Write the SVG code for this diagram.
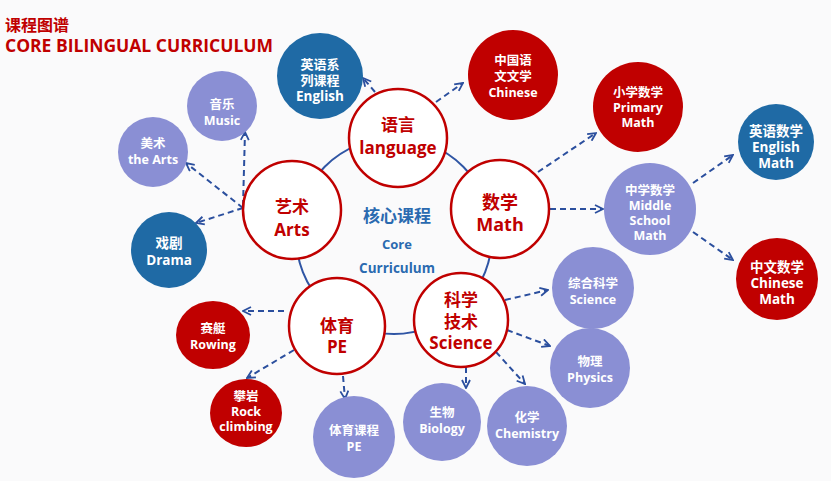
<svg xmlns="http://www.w3.org/2000/svg" width="831" height="481" viewBox="0 0 831 481">
<defs>
<style>
text{font-family:"Open Sans","Noto Sans CJK SC",sans-serif;font-weight:bold;text-anchor:middle}
.w{fill:#ffffff;font-size:12.5px}
.c{fill:#c00000;font-size:17px}
.hub{fill:#ffffff;stroke:#c00000;stroke-width:2.5}
.red{fill:#c00000}
.blue{fill:#1f6aa5}
.lav{fill:#8a8fd4}
.dash{fill:none;stroke:#2b4f9e;stroke-width:2;stroke-dasharray:6,4;marker-end:url(#ah)}
</style>
<marker id="ah" viewBox="0 0 10 10" refX="9" refY="5" markerWidth="10" markerHeight="10" markerUnits="userSpaceOnUse" orient="auto">
<path d="M1,1 L9,5 L1,9" fill="none" stroke="#2b4f9e" stroke-width="1.8"/>
</marker>
</defs>
<rect width="831" height="481" fill="#fafafb"/>
<g id="title">
<text x="5" y="31" style="text-anchor:start;font-size:16px;fill:#c00000">课程图谱</text>
<text x="5" y="52" style="text-anchor:start;font-size:17.5px;fill:#c00000" textLength="268" lengthAdjust="spacingAndGlyphs">CORE BILINGUAL CURRICULUM</text>
</g>
<g id="ring"><circle cx="394" cy="236" r="98" fill="none" stroke="#2f55a4" stroke-width="2"/></g>
<g id="connectors">
<line class="dash" x1="375" y1="92" x2="363" y2="78"/>
<line class="dash" x1="436" y1="102" x2="463" y2="83"/>
<line class="dash" x1="538" y1="172" x2="596" y2="133"/>
<line class="dash" x1="550" y1="209" x2="603" y2="209"/>
<line class="dash" x1="693" y1="183" x2="733" y2="155"/>
<line class="dash" x1="693" y1="232" x2="733" y2="260"/>
<line class="dash" x1="505" y1="300" x2="548" y2="290"/>
<line class="dash" x1="507" y1="330" x2="550" y2="346"/>
<line class="dash" x1="496" y1="352" x2="525" y2="384"/>
<line class="dash" x1="466" y1="367" x2="466" y2="388"/>
<line class="dash" x1="284" y1="311" x2="243" y2="311"/>
<line class="dash" x1="294" y1="350" x2="247" y2="378"/>
<line class="dash" x1="343" y1="376" x2="345" y2="399"/>
<line class="dash" x1="243" y1="206" x2="245" y2="132"/>
<line class="dash" x1="243" y1="208" x2="186" y2="163"/>
<line class="dash" x1="243" y1="208" x2="196" y2="223"/>
</g>
<g id="core">
<text x="397" y="222" style="fill:#2a6ab0;font-size:17px">核心课程</text>
<text x="397" y="249" style="fill:#2a6ab0;font-size:13px">Core</text>
<text x="397" y="273" style="fill:#2a6ab0;font-size:13.5px">Curriculum</text>
</g>
<g id="language"><circle class="hub" cx="398" cy="138" r="49"/><text class="c" x="398" y="131">语言</text><text class="c" x="398" y="154">language</text></g>
<g id="math"><circle class="hub" cx="500" cy="209" r="49"/><text class="c" x="500" y="209" style="font-size:18px">数学</text><text class="c" x="500" y="231" style="font-size:18px">Math</text></g>
<g id="arts"><circle class="hub" cx="292" cy="210" r="49"/><text class="c" x="292" y="213">艺术</text><text class="c" x="292" y="236">Arts</text></g>
<g id="science"><circle class="hub" cx="461" cy="320" r="47"/><text class="c" x="461" y="306">科学</text><text class="c" x="461" y="328">技术</text><text class="c" x="461" y="349">Science</text></g>
<g id="pe"><circle class="hub" cx="337" cy="326" r="48"/><text class="c" x="337" y="332">体育</text><text class="c" x="337" y="353">PE</text></g>

<g id="english-series"><circle class="blue" cx="320" cy="76" r="43"/><text class="w" x="320" y="69" style="font-size:13px">英语系</text><text class="w" x="320" y="85" style="font-size:13px">列课程</text><text class="w" x="320" y="101" style="font-size:13.5px">English</text></g>
<g id="chinese-lit"><circle class="red" cx="513" cy="75" r="45"/><text class="w" x="513" y="65">中国语</text><text class="w" x="513" y="81">文文学</text><text class="w" x="513" y="97">Chinese</text></g>
<g id="primary-math"><circle class="red" cx="638" cy="107" r="45"/><text class="w" x="638" y="97">小学数学</text><text class="w" x="638" y="112">Primary</text><text class="w" x="638" y="127">Math</text></g>
<g id="english-math"><circle class="blue" cx="776" cy="142" r="38"/><text class="w" x="776" y="136" style="font-size:13.5px">英语数学</text><text class="w" x="776" y="152" style="font-size:13.5px">English</text><text class="w" x="776" y="168" style="font-size:13.5px">Math</text></g>
<g id="middle-math"><circle class="lav" cx="650" cy="209" r="46"/><text class="w" x="650" y="195">中学数学</text><text class="w" x="650" y="210">Middle</text><text class="w" x="650" y="225">School</text><text class="w" x="650" y="240">Math</text></g>
<g id="chinese-math"><circle class="red" cx="777" cy="279" r="41"/><text class="w" x="777" y="272" style="font-size:13.5px">中文数学</text><text class="w" x="777" y="288" style="font-size:13.5px">Chinese</text><text class="w" x="777" y="304" style="font-size:13.5px">Math</text></g>
<g id="general-science"><circle class="lav" cx="593" cy="288" r="41"/><text class="w" x="593" y="288">综合科学</text><text class="w" x="593" y="304">Science</text></g>
<g id="physics"><circle class="lav" cx="590" cy="368" r="40"/><text class="w" x="590" y="366">物理</text><text class="w" x="590" y="382">Physics</text></g>
<g id="chemistry"><circle class="lav" cx="527" cy="426" r="40"/><text class="w" x="527" y="422">化学</text><text class="w" x="527" y="438">Chemistry</text></g>
<g id="biology"><circle class="lav" cx="442" cy="422" r="39"/><text class="w" x="442" y="417">生物</text><text class="w" x="442" y="433">Biology</text></g>
<g id="pe-course"><circle class="lav" cx="354" cy="437" r="41"/><text class="w" x="354" y="435">体育课程</text><text class="w" x="354" y="451">PE</text></g>
<g id="rock-climbing"><ellipse class="red" cx="246" cy="413" rx="36" ry="34"/><text class="w" x="246" y="401">攀岩</text><text class="w" x="246" y="416">Rock</text><text class="w" x="246" y="431">climbing</text></g>
<g id="rowing"><ellipse class="red" cx="213" cy="335" rx="37" ry="34"/><text class="w" x="213" y="333">赛艇</text><text class="w" x="213" y="349">Rowing</text></g>
<g id="drama"><circle class="blue" cx="169" cy="250" r="38"/><text class="w" x="169" y="248" style="font-size:13.5px">戏剧</text><text class="w" x="169" y="265" style="font-size:13.5px">Drama</text></g>
<g id="fine-arts"><circle class="lav" cx="153" cy="152" r="35"/><text class="w" x="153" y="148">美术</text><text class="w" x="153" y="164">the Arts</text></g>
<g id="music"><circle class="lav" cx="222" cy="106" r="35"/><text class="w" x="222" y="109">音乐</text><text class="w" x="222" y="125">Music</text></g>
</svg>
